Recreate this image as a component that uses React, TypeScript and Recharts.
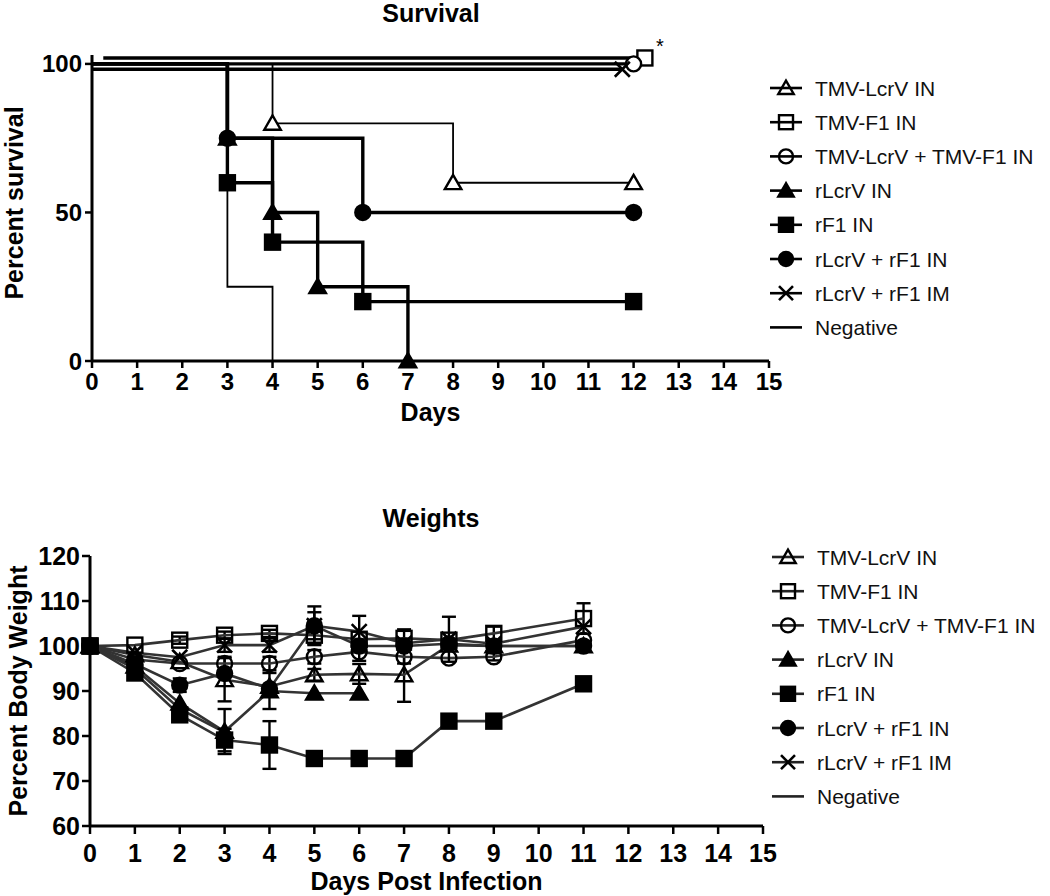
import React from "react";
import { LineChart, Line, XAxis, YAxis, ErrorBar, Legend } from "recharts";

const FONT = '"Liberation Sans", Arial, Helvetica, sans-serif';

// Kaplan-Meier steps: day, percent alive, whether Prism drew a symbol there
type SurvPoint = { day: number; pct: number; mark: boolean };

const tmvLcrvSurv: SurvPoint[] = [
  { day: 0, pct: 100, mark: false },
  { day: 4, pct: 80, mark: true },
  { day: 8, pct: 60, mark: true },
  { day: 12, pct: 60, mark: true },
];
const tmvF1Surv: SurvPoint[] = [
  { day: 0.25, pct: 102, mark: false },
  { day: 12.25, pct: 102, mark: true },
];
const tmvBothSurv: SurvPoint[] = [
  { day: 0, pct: 100, mark: false },
  { day: 12, pct: 100, mark: true },
];
const rLcrvSurv: SurvPoint[] = [
  { day: 0, pct: 100, mark: false },
  { day: 3, pct: 75, mark: true },
  { day: 4, pct: 50, mark: true },
  { day: 5, pct: 25, mark: true },
  { day: 7, pct: 0, mark: true },
];
const rF1Surv: SurvPoint[] = [
  { day: 0, pct: 100, mark: false },
  { day: 3, pct: 60, mark: true },
  { day: 4, pct: 40, mark: true },
  { day: 6, pct: 20, mark: true },
  { day: 12, pct: 20, mark: true },
];
const rBothInSurv: SurvPoint[] = [
  { day: 0, pct: 100, mark: false },
  { day: 3, pct: 75, mark: true },
  { day: 6, pct: 50, mark: true },
  { day: 12, pct: 50, mark: true },
];
const rBothImSurv: SurvPoint[] = [
  { day: 0, pct: 98.2, mark: false },
  { day: 11.75, pct: 98.2, mark: true },
];
const negativeSurv: SurvPoint[] = [
  { day: 0, pct: 100, mark: false },
  { day: 3, pct: 25, mark: false },
  { day: 4, pct: 0, mark: false },
];

const seriesNames = [
  "TMV-LcrV IN",
  "TMV-F1 IN",
  "TMV-LcrV + TMV-F1 IN",
  "rLcrV IN",
  "rF1 IN",
  "rLcrV + rF1 IN",
  "rLcrV + rF1 IM",
  "Negative",
];
type Shape = "triangle" | "square" | "circle" | "cross" | "none";
const seriesShapes: Shape[] = ["triangle", "square", "circle", "triangle", "square", "circle", "cross", "none"];
const seriesFilled = [false, false, false, true, true, true, false, false];

const dayTicks = [0, 1, 2, 3, 4, 5, 6, 7, 8, 9, 10, 11, 12, 13, 14, 15];
const survivalTicks = [0, 50, 100];
const weightTicks = [60, 70, 80, 90, 100, 110, 120];

// body weights (% of day 0), mean and error
const weightDays = [0, 1, 2, 3, 4, 5, 6, 7, 8, 9, 11];
const tmvLcrvWt = [100, 98, 96.5, 92.5, 91, 93.6, 93.8, 93.6, 100.2, 100, 100];
const tmvLcrvErr = [0, 0, 0, 4.8, 0, 1.3, 2.2, 6, 0, 0, 0];
const tmvF1Wt = [100, 100.2, 101.3, 102.4, 102.8, 102.4, 101.5, 101.7, 101.3, 102.8, 106.1];
const tmvF1Err = [0, 0, 0.8, 0.8, 0.8, 2, 0, 2, 0, 1.5, 3.4];
const tmvBothWt = [100, 97, 96.1, 96.1, 96.1, 97.6, 98.7, 97.6, 97.3, 97.6, 101.3];
const tmvBothErr = [0, 0, 0, 1.5, 1.5, 1.5, 2, 1.5, 0, 0.8, 0];
const rLcrvWt = [100, 95.5, 87.3, 81, 90, 89.5, 89.5];
const rLcrvErr = [0, 0, 0, 5, 4, 0, 0];
const rF1Wt = [100, 94, 84.7, 79.1, 78, 75, 75, 75, 83.3, 83.3, 91.6];
const rF1Err = [0, 0, 1.5, 2.5, 5.3, 0, 0, 0, 0, 0, 0];
const rBothInWt = [100, 96, 91.3, 93.9, 90.5, 104.5, 100, 100, 100.5, 100, 100];
const rBothInErr = [0, 0, 1.5, 0, 0, 4.3, 1, 0, 0, 0, 0];
const rBothImWt = [100, 98.5, 97.5, 100.2, 100.2, 104.5, 103.2, 100.6, 101.5, 100.5, 104.3];
const rBothImErr = [0, 0, 0, 1.5, 1.5, 3, 3.5, 0, 5, 0, 0];
const negativeWt = [100, 95, 86, 80.8];

const weightSeries = [
  { key: "tmvLcrv", values: tmvLcrvWt, errors: tmvLcrvErr, idx: 0 },
  { key: "tmvF1", values: tmvF1Wt, errors: tmvF1Err, idx: 1 },
  { key: "tmvBoth", values: tmvBothWt, errors: tmvBothErr, idx: 2 },
  { key: "rLcrv", values: rLcrvWt, errors: rLcrvErr, idx: 3 },
  { key: "rBothIn", values: rBothInWt, errors: rBothInErr, idx: 5 },
  { key: "rBothIm", values: rBothImWt, errors: rBothImErr, idx: 6 },
  { key: "negative", values: negativeWt, errors: [] as number[], idx: 7 },
  { key: "rF1", values: rF1Wt, errors: rF1Err, idx: 4 },
];

const weightData = weightDays.map((day, i) => {
  const row: Record<string, number | null> = { day };
  weightSeries.forEach((s) => {
    row[s.key] = s.values[i] ?? null;
    row[s.key + "Err"] = s.errors[i] ?? 0;
  });
  return row;
});

function Marker({
  shape,
  filled,
  cx,
  cy,
  size,
  bg,
}: {
  shape: Shape;
  filled: boolean;
  cx: number;
  cy: number;
  size: number;
  bg: string;
}) {
  const h = size / 2;
  const fill = filled ? "#000" : bg;
  const sw = 2.4;
  if (shape === "triangle")
    return (
      <polygon
        points={`${cx},${cy - h * 1.05} ${cx - h * 1.1},${cy + h * 0.85} ${cx + h * 1.1},${cy + h * 0.85}`}
        fill={fill}
        stroke="#000"
        strokeWidth={sw}
      />
    );
  if (shape === "square")
    return <rect x={cx - h} y={cy - h} width={size} height={size} fill={fill} stroke="#000" strokeWidth={sw} />;
  if (shape === "circle") return <circle cx={cx} cy={cy} r={h} fill={fill} stroke="#000" strokeWidth={sw} />;
  if (shape === "cross")
    return (
      <path
        d={`M${cx - h},${cy - h}L${cx + h},${cy + h}M${cx - h},${cy + h}L${cx + h},${cy - h}`}
        stroke="#000"
        strokeWidth={2.6}
        fill="none"
      />
    );
  return null;
}

const survDot = (i: number) => (props: any) => {
  const { cx, cy, payload, index } = props;
  if (!payload || !payload.mark || cx == null || cy == null) return <g key={`s${i}-${index}`} />;
  return (
    <g key={`s${i}-${index}`}>
      <Marker shape={seriesShapes[i]} filled={seriesFilled[i]} cx={cx} cy={cy} size={15} bg="#fff" />
    </g>
  );
};

const wtDot = (i: number) => (props: any) => {
  const { cx, cy, index, value } = props;
  if (cx == null || cy == null || value == null) return <g key={`w${i}-${index}`} />;
  return (
    <g key={`w${i}-${index}`}>
      <Marker shape={seriesShapes[i]} filled={seriesFilled[i]} cx={cx} cy={cy} size={15} bg="none" />
    </g>
  );
};

const LegendBox = ({ lineColor }: { lineColor: string }) => (
  <svg width={290} height={290} style={{ display: "block" }}>
    {seriesNames.map((name, i) => {
      const y = 17 + i * 34.2;
      return (
        <g key={name}>
          <line x1={10} x2={42} y1={y} y2={y} stroke={lineColor} strokeWidth={2.6} />
          <Marker shape={seriesShapes[i]} filled={seriesFilled[i]} cx={26} cy={y} size={14} bg="none" />
          <text x={55} y={y} dominantBaseline="central" fontSize={21} fontFamily={FONT} fill="#111">
            {name}
          </text>
        </g>
      );
    })}
  </svg>
);

const sideTitle = (text: string, x: number, y: number) => () => (
  <text
    x={x}
    y={y}
    transform={`rotate(-90 ${x} ${y})`}
    textAnchor="middle"
    fontSize={25}
    fontWeight={700}
    fontFamily={FONT}
    fill="#000"
  >
    {text}
  </text>
);

const bottomTitle = (text: string, x: number, y: number) => () => (
  <text x={x} y={y} textAnchor="middle" fontSize={25} fontWeight={700} fontFamily={FONT} fill="#000">
    {text}
  </text>
);

const axisLine = { stroke: "#000", strokeWidth: 3 };
const tickLine = { stroke: "#000", strokeWidth: 2.5 };

const survLines = [
  { data: negativeSurv, idx: 7, width: 1.8 },
  { data: tmvLcrvSurv, idx: 0, width: 1.8 },
  { data: tmvF1Surv, idx: 1, width: 3.4 },
  { data: tmvBothSurv, idx: 2, width: 3.4 },
  { data: rBothImSurv, idx: 6, width: 3.4 },
  { data: rBothInSurv, idx: 5, width: 3.4 },
  { data: rLcrvSurv, idx: 3, width: 3.4 },
  { data: rF1Surv, idx: 4, width: 3.4 },
];

export default function App() {
  return (
    <div style={{ position: "absolute", left: 0, top: 0, width: 1050, height: 896, background: "#fff" }}>
      <div
        style={{
          position: "absolute",
          left: 0,
          top: 1,
          width: 862,
          textAlign: "center",
          font: `700 25px ${FONT}`,
          lineHeight: "25px",
        }}
      >
        Survival
      </div>
      <div style={{ position: "absolute", left: 656, top: 36, font: `400 20px ${FONT}`, lineHeight: "20px" }}>*</div>

      <div style={{ position: "absolute", left: 0, top: 0 }}>
        <LineChart width={1050} height={440} margin={{ top: 55, right: 281, bottom: 39, left: 32 }}>
          <XAxis
            type="number"
            dataKey="day"
            domain={[0, 15]}
            ticks={dayTicks}
            interval={0}
            height={40}
            tickSize={7}
            tickMargin={5}
            axisLine={axisLine}
            tickLine={tickLine}
            tick={{ fill: "#000", fontSize: 24, fontWeight: 700, fontFamily: FONT }}
            label={bottomTitle("Days", 430.5, 421)}
            allowDuplicatedCategory={false}
          />
          <YAxis
            type="number"
            domain={[0, 103]}
            ticks={survivalTicks}
            interval={0}
            width={60}
            tickSize={7}
            tickMargin={3}
            axisLine={axisLine}
            tickLine={tickLine}
            tick={{ fill: "#000", fontSize: 24, fontWeight: 700, fontFamily: FONT }}
            label={sideTitle("Percent survival", 23, 203)}
          />
          {survLines.map((s) => (
            <Line
              key={seriesNames[s.idx]}
              data={s.data}
              dataKey="pct"
              name={seriesNames[s.idx]}
              type="stepAfter"
              stroke="#000"
              strokeWidth={s.width}
              dot={survDot(s.idx)}
              activeDot={false}
              isAnimationActive={false}
            />
          ))}
          <Legend
            layout="vertical"
            align="center"
            verticalAlign="middle"
            wrapperStyle={{ left: 760, top: 71, width: 290 }}
            content={() => <LegendBox lineColor="#000" />}
          />
        </LineChart>
      </div>

      <div
        style={{
          position: "absolute",
          left: 0,
          top: 506,
          width: 862,
          textAlign: "center",
          font: `700 25px ${FONT}`,
          lineHeight: "25px",
        }}
      >
        Weights
      </div>

      <div style={{ position: "absolute", left: 0, top: 470 }}>
        <LineChart width={1050} height={426} data={weightData} margin={{ top: 86, right: 287, bottom: 23, left: 30 }}>
          <XAxis
            type="number"
            dataKey="day"
            domain={[0, 15]}
            ticks={dayTicks}
            interval={0}
            height={47}
            tickSize={8}
            tickMargin={10}
            axisLine={axisLine}
            tickLine={tickLine}
            tick={{ fill: "#000", fontSize: 25, fontWeight: 700, fontFamily: FONT }}
            label={bottomTitle("Days Post Infection", 426.5, 420)}
          />
          <YAxis
            type="number"
            domain={[60, 120]}
            ticks={weightTicks}
            interval={0}
            width={60}
            tickSize={8}
            tickMargin={2}
            axisLine={axisLine}
            tickLine={tickLine}
            tick={{ fill: "#000", fontSize: 25, fontWeight: 700, fontFamily: FONT }}
            label={sideTitle("Percent Body Weight", 27, 221)}
          />
          {weightSeries.map((s) => (
            <Line
              key={s.key}
              dataKey={s.key}
              name={seriesNames[s.idx]}
              type="linear"
              stroke="#333"
              strokeWidth={2.6}
              dot={wtDot(s.idx)}
              activeDot={false}
              connectNulls={false}
              isAnimationActive={false}
            >
              <ErrorBar dataKey={s.key + "Err"} direction="y" width={7} stroke="#000" strokeWidth={2.4} />
            </Line>
          ))}
          <Legend
            layout="vertical"
            align="center"
            verticalAlign="middle"
            wrapperStyle={{ left: 762, top: 70, width: 290 }}
            content={() => <LegendBox lineColor="#222" />}
          />
        </LineChart>
      </div>
    </div>
  );
}
